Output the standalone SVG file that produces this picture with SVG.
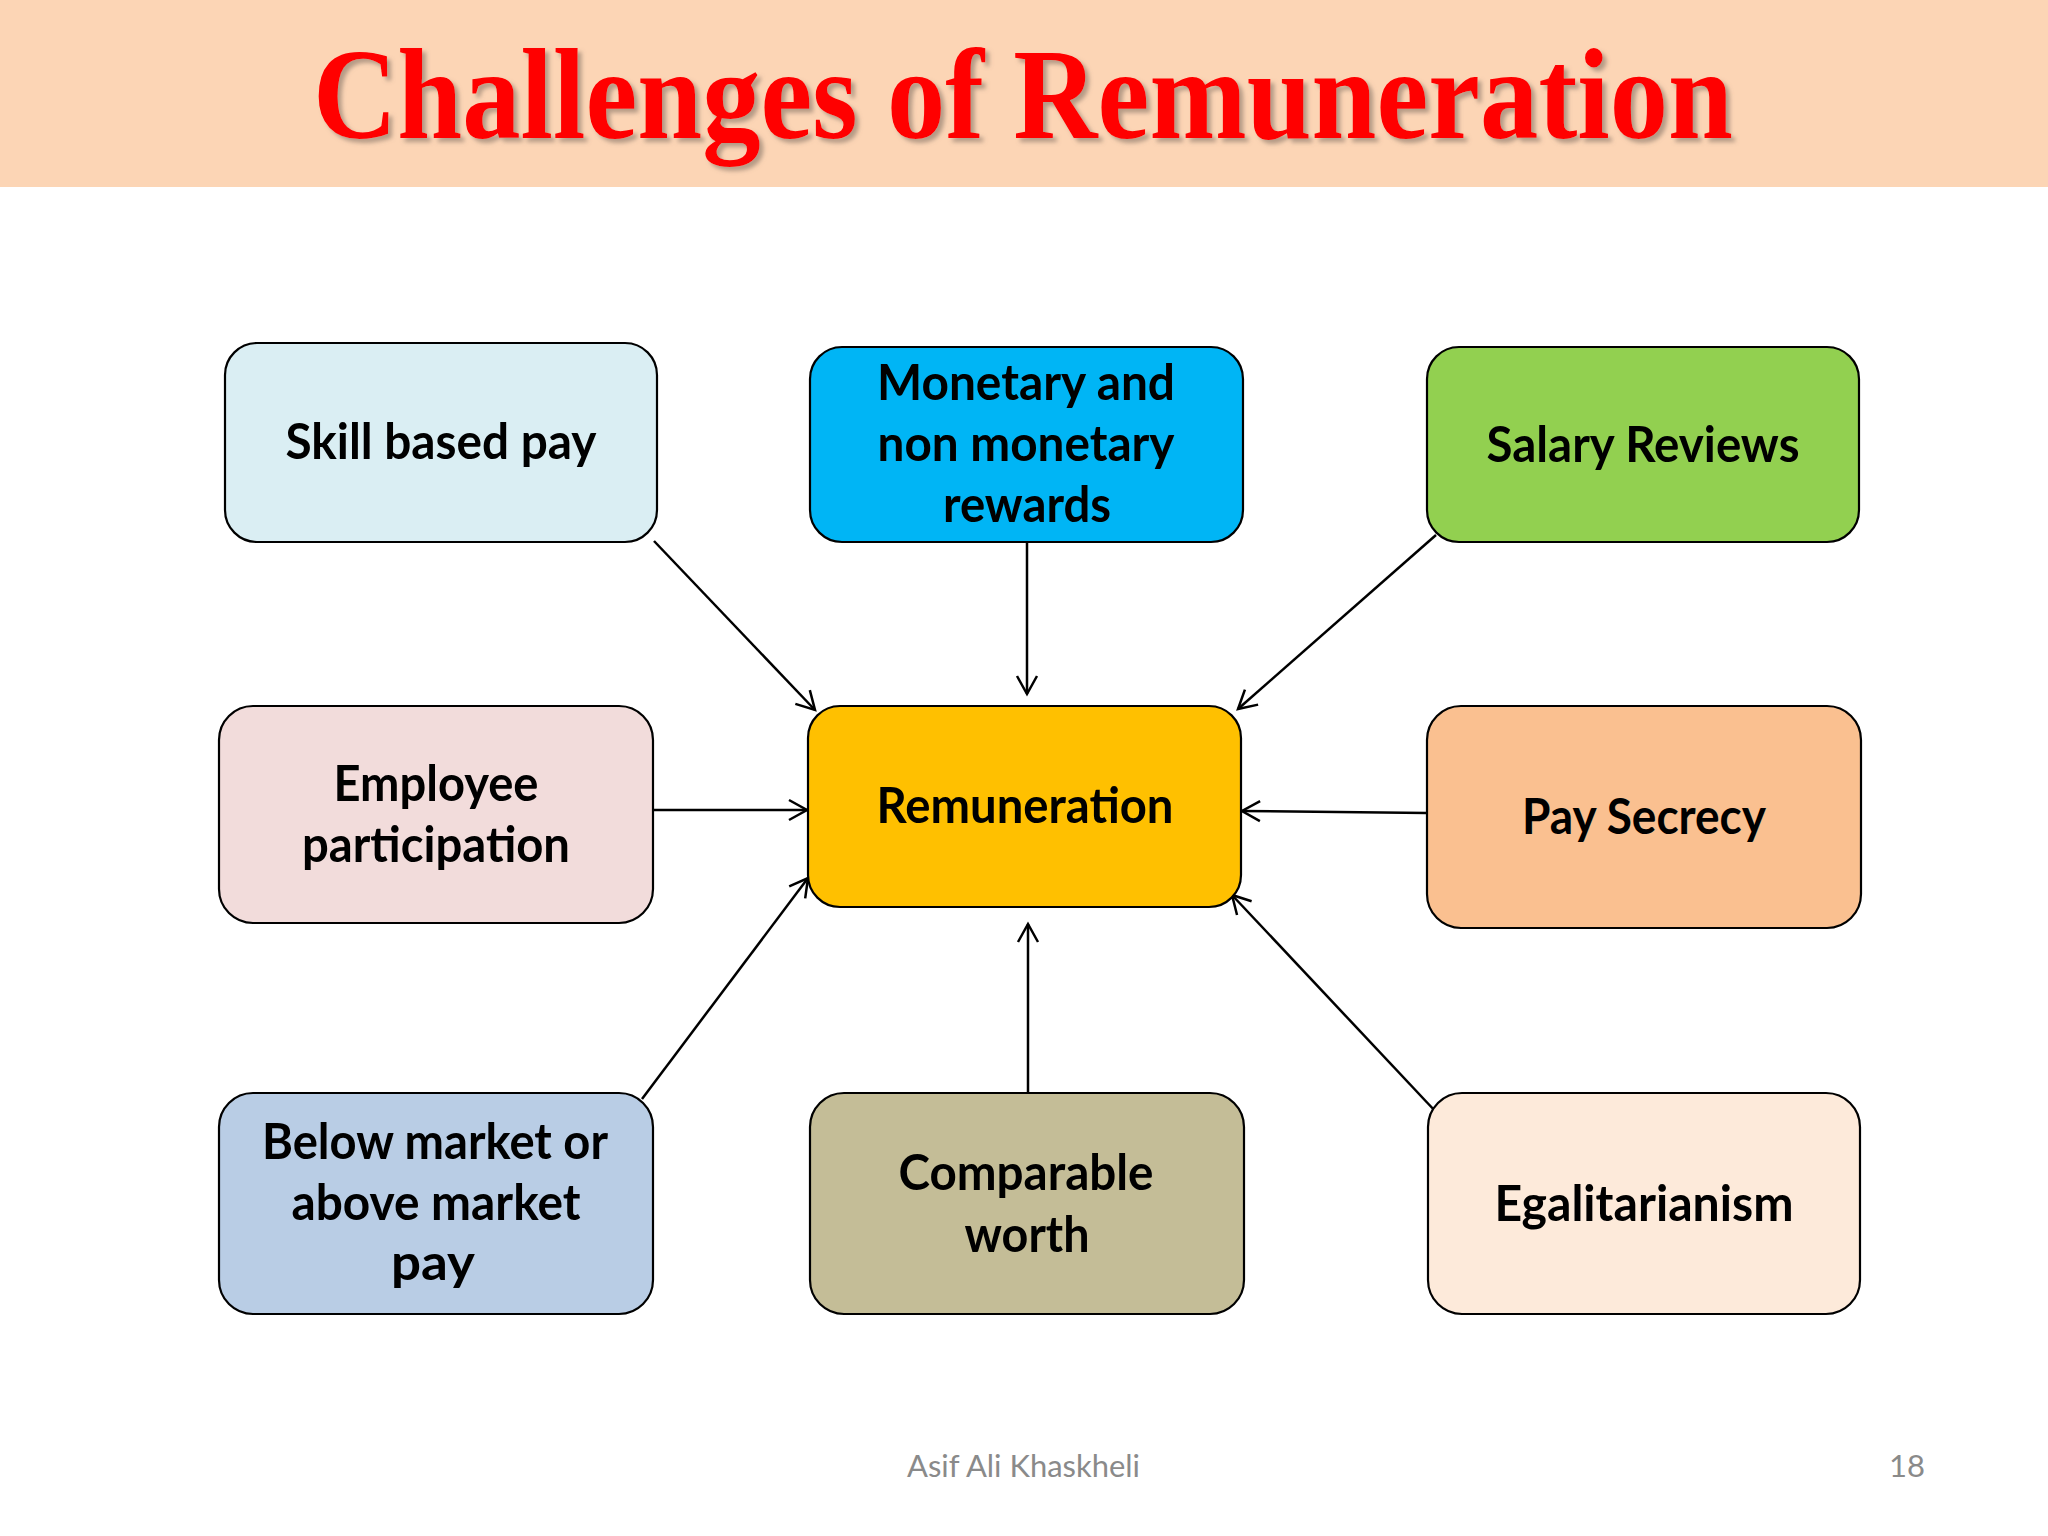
<svg xmlns="http://www.w3.org/2000/svg" width="2048" height="1536" viewBox="0 0 2048 1536">
<style>
.box{stroke:#000;stroke-width:2.2}
.lbl{font-family:Lato,"Open Sans","Liberation Sans",sans-serif;font-weight:bold;font-size:50px;fill:#000;text-anchor:middle}
.con{stroke:#000;stroke-width:2.5;fill:none;marker-end:url(#arr)}
.foot{font-family:Lato,"Open Sans","Liberation Sans",sans-serif;font-size:31px;fill:#8a8a8a}
</style>
<defs>
<marker id="arr" markerUnits="userSpaceOnUse" viewBox="0 0 24 24" markerWidth="24" markerHeight="24" refX="21" refY="12" orient="auto">
<path d="M3,2 L21,12 L3,22" fill="none" stroke="#000" stroke-width="2.5"/>
</marker>
<filter id="shadow" x="-5%" y="-20%" width="110%" height="150%">
<feDropShadow dx="4" dy="4" stdDeviation="2" flood-color="#7a6a60" flood-opacity="0.55"/>
</filter>
</defs>
<rect x="0" y="0" width="2048" height="1536" fill="#ffffff"/>
<rect x="0" y="0" width="2048" height="187" fill="#FCD5B5"/>
<text x="313" y="138" font-family="'Liberation Serif','Times New Roman',serif" font-weight="bold" font-size="130" fill="#FF0000" textLength="1420" lengthAdjust="spacingAndGlyphs" filter="url(#shadow)">Challenges of Remuneration</text>

<g id="connectors">
<line class="con" x1="654" y1="541" x2="815" y2="710"/>
<line class="con" x1="1027" y1="542" x2="1027" y2="694"/>
<line class="con" x1="1436" y1="535" x2="1238" y2="709"/>
<line class="con" x1="653" y1="810" x2="807" y2="810"/>
<line class="con" x1="1427" y1="813" x2="1242" y2="811"/>
<line class="con" x1="642" y1="1099" x2="808" y2="878"/>
<line class="con" x1="1028" y1="1093" x2="1028" y2="924"/>
<line class="con" x1="1436" y1="1112" x2="1232" y2="895"/>
</g>

<g id="skill">
<rect class="box" x="225" y="343" width="432" height="199" rx="32" fill="#DAEEF3"/>
<text class="lbl" x="441" y="459" textLength="311" lengthAdjust="spacingAndGlyphs">Skill based pay</text>
</g>
<g id="monetary">
<rect class="box" x="810" y="347" width="433" height="195" rx="32" fill="#00B5F5"/>
<text class="lbl" x="1026" y="400" textLength="298" lengthAdjust="spacingAndGlyphs">Monetary and</text>
<text class="lbl" x="1026" y="461" textLength="297" lengthAdjust="spacingAndGlyphs">non monetary</text>
<text class="lbl" x="1027" y="522" textLength="168" lengthAdjust="spacingAndGlyphs">rewards</text>
</g>
<g id="salary">
<rect class="box" x="1427" y="347" width="432" height="195" rx="32" fill="#92D050"/>
<text class="lbl" x="1643" y="462" textLength="313" lengthAdjust="spacingAndGlyphs">Salary Reviews</text>
</g>
<g id="employee">
<rect class="box" x="219" y="706" width="434" height="217" rx="34" fill="#F2DCDB"/>
<text class="lbl" x="436" y="801" textLength="205" lengthAdjust="spacingAndGlyphs">Employee</text>
<text class="lbl" x="436" y="862" textLength="268" lengthAdjust="spacingAndGlyphs">participation</text>
</g>
<g id="remuneration">
<rect class="box" x="808" y="706" width="433" height="201" rx="32" fill="#FFC000"/>
<text class="lbl" x="1025" y="823" textLength="297" lengthAdjust="spacingAndGlyphs">Remuneration</text>
</g>
<g id="paysecrecy">
<rect class="box" x="1427" y="706" width="434" height="222" rx="34" fill="#FAC090"/>
<text class="lbl" x="1644" y="834" textLength="244" lengthAdjust="spacingAndGlyphs">Pay Secrecy</text>
</g>
<g id="belowmarket">
<rect class="box" x="219" y="1093" width="434" height="221" rx="34" fill="#B9CDE5"/>
<text class="lbl" x="435" y="1159" textLength="346" lengthAdjust="spacingAndGlyphs">Below market or</text>
<text class="lbl" x="436" y="1220" textLength="289" lengthAdjust="spacingAndGlyphs">above market</text>
<text class="lbl" x="433" y="1280" textLength="84" lengthAdjust="spacingAndGlyphs">pay</text>
</g>
<g id="comparable">
<rect class="box" x="810" y="1093" width="434" height="221" rx="34" fill="#C4BD97"/>
<text class="lbl" x="1026" y="1190" textLength="255" lengthAdjust="spacingAndGlyphs">Comparable</text>
<text class="lbl" x="1027" y="1252" textLength="125" lengthAdjust="spacingAndGlyphs">worth</text>
</g>
<g id="egalitarianism">
<rect class="box" x="1428" y="1093" width="432" height="221" rx="34" fill="#FDEADA"/>
<text class="lbl" x="1644" y="1221" textLength="299" lengthAdjust="spacingAndGlyphs">Egalitarianism</text>
</g>

<text class="foot" x="907" y="1477" textLength="233" lengthAdjust="spacingAndGlyphs">Asif Ali Khaskheli</text>
<text class="foot" x="1925" y="1477" text-anchor="end">18</text>
</svg>
